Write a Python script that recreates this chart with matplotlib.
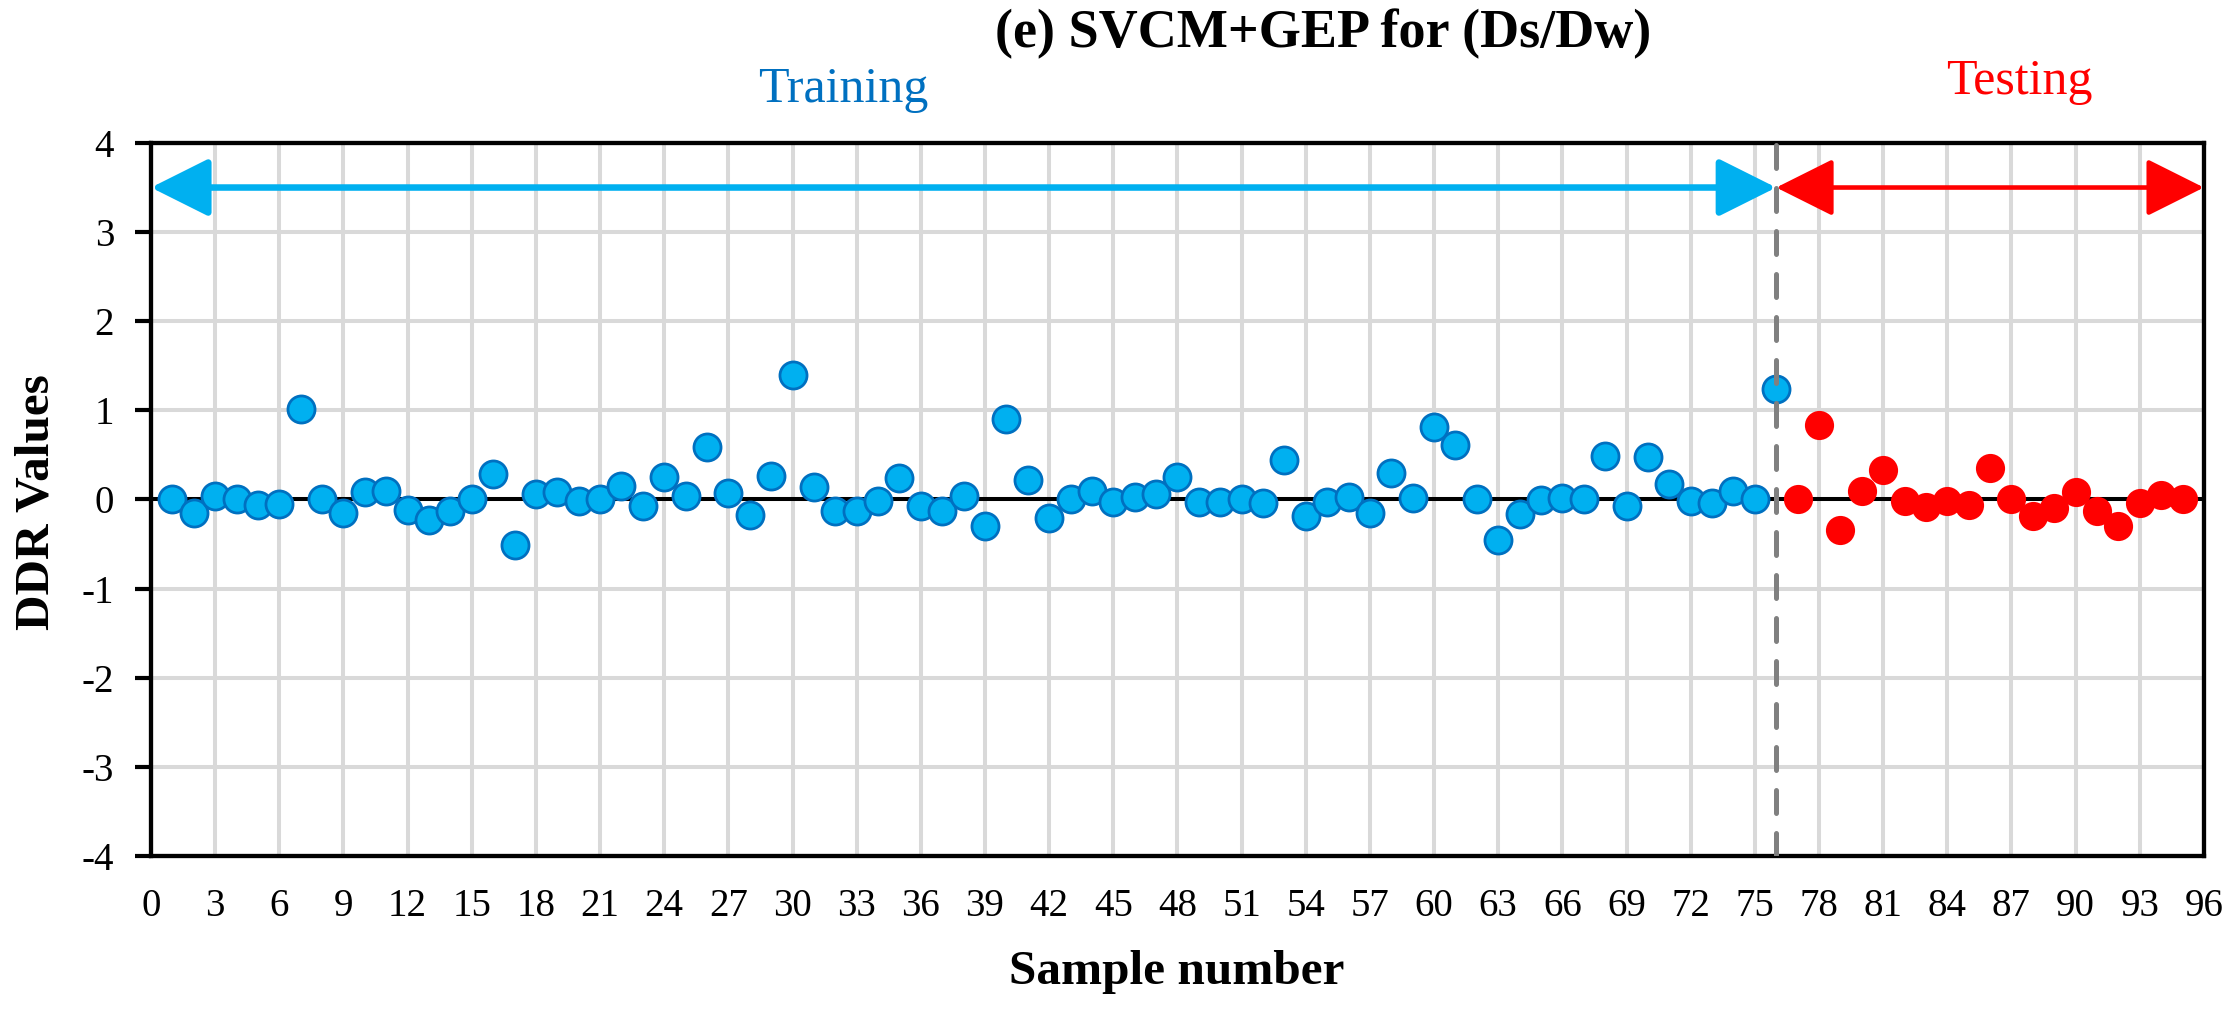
import matplotlib
matplotlib.use("Agg")
import matplotlib.pyplot as plt
from matplotlib.patches import FancyArrowPatch

plt.rcParams['font.family'] = ['Liberation Serif', 'DejaVu Serif']
plt.rcParams['axes.unicode_minus'] = False

# ---- data ----
train_x = list(range(1, 77))
train_y = [0.00, -0.15, 0.04, 0.00, -0.06, -0.05, 1.02, 0.00, -0.15, 0.08,
           0.10, -0.12, -0.23, -0.13, 0.00, 0.29, -0.51, 0.06, 0.08, -0.02,
           0.00, 0.15, -0.07, 0.25, 0.04, 0.59, 0.07, -0.17, 0.26, 1.40,
           0.14, -0.13, -0.13, -0.02, 0.24, -0.07, -0.13, 0.04, -0.30, 0.90,
           0.22, -0.21, 0.00, 0.10, -0.03, 0.03, 0.06, 0.25, -0.03, -0.03,
           0.00, -0.04, 0.44, -0.18, -0.03, 0.03, -0.15, 0.30, 0.02, 0.81,
           0.61, 0.00, -0.46, -0.16, -0.01, 0.02, 0.01, 0.49, -0.07, 0.48,
           0.17, -0.02, -0.04, 0.10, 0.00, 1.24]
test_x = list(range(77, 96))
test_y = [0.00, 0.84, -0.34, 0.09, 0.33, -0.02, -0.08, -0.02, -0.06, 0.35,
          0.01, -0.18, -0.09, 0.08, -0.13, -0.30, -0.04, 0.05, 0.00]
x_ticks = list(range(0, 97, 3))
y_ticks = [-4, -3, -2, -1, 0, 1, 2, 3, 4]
split_x = 76
arrow_y = 3.5
title = "(e) SVCM+GEP for (Ds/Dw)"

fig = plt.figure(figsize=(22.37, 10.11), dpi=100)
ax = fig.add_axes([0.0675, 0.1533, 0.9177, 0.7053])

ax.set_xlim(0, 96)
ax.set_ylim(-4, 4)
ax.set_xticks(x_ticks)
ax.set_yticks(y_ticks)
ax.set_xticklabels([str(t) for t in x_ticks])
ax.set_yticklabels([str(t) for t in y_ticks])
ax.grid(True, color='#D9D9D9', linewidth=2.9, zorder=0)
ax.set_axisbelow(True)

for s in ax.spines.values():
    s.set_linewidth(3.1)
    s.set_color('black')
ax.tick_params(axis='y', length=11.5, width=3, pad=15, labelsize=28)
ax.tick_params(axis='x', length=0, pad=23, labelsize=28)

ax.axhline(0, color='black', linewidth=2.9, zorder=1)

ax.scatter(train_x, train_y, s=380, facecolor='#00B0F0', edgecolor='#0070C0',
           linewidth=2.0, zorder=3)
ax.scatter(test_x, test_y, s=380, facecolor='#FF0000', edgecolor='#FF0000',
           linewidth=1.5, zorder=3)

a1 = FancyArrowPatch((0, arrow_y), (split_x, arrow_y),
                     arrowstyle='<|-|>,head_length=36,head_width=18',
                     mutation_scale=1, color='#00B0F0', linewidth=4.7,
                     shrinkA=0, shrinkB=0, zorder=4, clip_on=False)
ax.add_patch(a1)
a2 = FancyArrowPatch((split_x, arrow_y), (96, arrow_y),
                     arrowstyle='<|-|>,head_length=36,head_width=18',
                     mutation_scale=1, color='#FF0000', linewidth=3.3,
                     shrinkA=0, shrinkB=0, zorder=4, clip_on=False)
ax.add_patch(a2)

ln, = ax.plot([split_x, split_x], [-4, 4], color='#808080', linewidth=3.6,
              zorder=5, dash_capstyle='round')
ln.set_dashes((4.6, 4.0))

ax.set_xlabel("Sample number", fontsize=35.5, fontweight='bold')
ax.xaxis.set_label_coords((1177 - 151) / 2053, -0.132)
ax.set_ylabel("DDR Values", fontsize=35.5, fontweight='bold')
ax.yaxis.set_label_coords(-0.0453, (856 - 502) / 713)

fig.text(1323 / 2237, 1 - 34 / 1011, title, fontsize=39, fontweight='bold',
         ha='center', va='center')
fig.text(843 / 2237, 1 - 90 / 1011, "Training", fontsize=36, color='#0070C0',
         ha='center', va='center')
fig.text(2019 / 2237, 1 - 82 / 1011, "Testing", fontsize=36, color='#FF0000',
         ha='center', va='center')

fig.savefig("out.png", dpi=100)
